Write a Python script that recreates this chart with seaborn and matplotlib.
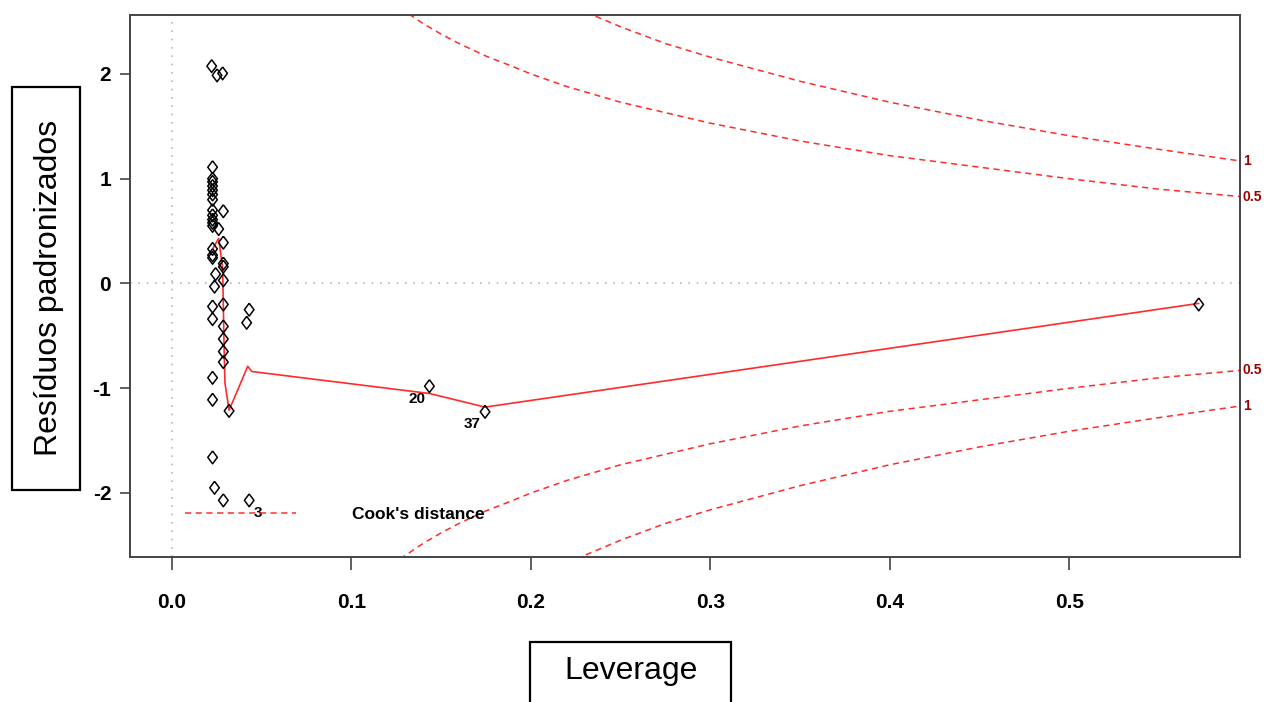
import matplotlib
matplotlib.use("Agg")
import matplotlib.pyplot as plt
import seaborn as sns
import pandas as pd
from matplotlib.patches import Rectangle

# leverage / standardized residuals
leverage = [0.0221, 0.0251, 0.0282,
            0.0226, 0.0226, 0.0226, 0.0226, 0.0226, 0.0226, 0.0226, 0.0226,
            0.0226, 0.0226, 0.0226, 0.0226, 0.0226, 0.0226, 0.0226, 0.0226,
            0.0226, 0.0226, 0.0226, 0.0226, 0.0243, 0.0237, 0.0237,
            0.0286, 0.0286, 0.0286, 0.0286, 0.0286, 0.0286, 0.0286, 0.0286,
            0.0286, 0.0286, 0.0286, 0.0260, 0.0318,
            0.0430, 0.0416, 0.0430, 0.1434, 0.1744, 0.5720]
residuals = [2.075, 1.987, 2.006,
             1.11, 1.00, 0.97, 0.93, 0.89, 0.85, 0.80, 0.70,
             0.65, 0.61, 0.58, 0.55, 0.33, 0.27, 0.245, -0.22,
             -0.34, -0.90, -1.11, -1.66, 0.09, -0.03, -1.95,
             0.69, 0.39, 0.19, 0.16, 0.03, -0.20, -0.41, -0.53,
             -0.65, -0.75, -2.07, 0.52, -1.216,
             -0.25, -0.375, -2.07, -0.98, -1.225, -0.20]
point_ids = ["3", "20", "37"]
id_index = [41, 42, 43]

# smoother (red line)
smooth_lev = [0.0228, 0.0260, 0.0282, 0.0290, 0.0295, 0.0318, 0.0422, 0.0444, 0.1434, 0.1744, 0.5720]
smooth_res = [0.335, 0.43, 0.15, -0.60, -0.95, -1.21, -0.79, -0.84, -1.05, -1.18, -0.19]

# Cook's distance contours
cook_lev_05 = [0.127, 0.14, 0.15, 0.16, 0.175, 0.19, 0.20, 0.22, 0.25, 0.30, 0.35, 0.40, 0.45, 0.50, 0.55, 0.595]
cook_up_05 = [2.63, 2.48, 2.38, 2.29, 2.17, 2.07, 2.00, 1.88, 1.73, 1.53, 1.36, 1.22, 1.11, 1.00, 0.90, 0.83]
cook_lo_05 = [-2.63, -2.48, -2.38, -2.29, -2.17, -2.07, -2.00, -1.88, -1.73, -1.53, -1.36, -1.22, -1.11, -1.00, -0.90, -0.83]
cook_lev_1 = [0.225, 0.25, 0.275, 0.30, 0.35, 0.40, 0.45, 0.50, 0.55, 0.595]
cook_up_1 = [2.63, 2.45, 2.29, 2.16, 1.93, 1.73, 1.56, 1.41, 1.28, 1.17]
cook_lo_1 = [-2.63, -2.45, -2.29, -2.16, -1.93, -1.73, -1.56, -1.41, -1.28, -1.17]
cook_labels = ["1", "0.5", "0.5", "1"]

x_ticks = [0.0, 0.1, 0.2, 0.3, 0.4, 0.5]
y_ticks = [-2, -1, 0, 1, 2]

sns.set_style("white")
plt.rcParams['font.family'] = ['Liberation Sans', 'DejaVu Sans']
plt.rcParams['text.color'] = 'black'
narrow = ['Liberation Sans', 'DejaVu Sans']

W, H = 1264, 702
fig = plt.figure(figsize=(W / 100, H / 100), dpi=100)
ax = fig.add_axes([130 / W, 1 - 557 / H, 1110 / W, 542 / H])

ax.axhline(0, color='#b8b8b8', ls=(0, (1, 4)), lw=1.2, zorder=1)
ax.axvline(0, color='#b8b8b8', ls=(0, (1, 4)), lw=1.2, zorder=1)

red = '#ff2b2b'
dash = (0, (4, 3))
curves = [(cook_lev_1, cook_up_1), (cook_lev_05, cook_up_05),
          (cook_lev_05, cook_lo_05), (cook_lev_1, cook_lo_1)]
for lev, val in curves:
    sns.lineplot(x=lev, y=val, ax=ax, color=red, linestyle=dash, lw=1.1,
                 sort=False, estimator=None, zorder=2)
cook_line = ax.lines[-1]

sns.lineplot(x=smooth_lev, y=smooth_res, ax=ax, color=red, lw=1.2,
             sort=False, estimator=None, zorder=3)

diamond = [(0, 1), (0.75, 0), (0, -1), (-0.75, 0), (0, 1)]
sns.scatterplot(x=leverage, y=residuals, ax=ax, marker=diamond, s=85,
                facecolors='none', edgecolor='black', linewidth=1.1, zorder=4)

offsets = [(6, -9), (-9, -9), (-9, -9)]
for pid, i, off in zip(point_ids, id_index, offsets):
    ax.annotate(pid, (leverage[i], residuals[i]), xytext=off, textcoords='offset points',
                ha='center', va='center', fontsize=11, fontweight='bold', family=narrow,
                color='black')

for lab, (lev, val) in zip(cook_labels, curves):
    ax.text(0.5965, val[-1], lab, ha='left', va='center', color='#9b0000',
            fontsize=10, fontweight='bold', family=narrow, clip_on=False)

ax.set_xlim(-0.0234, 0.595)
ax.set_ylim(-2.611, 2.563)
ax.set_xticks(x_ticks)
ax.set_xticklabels([f"{v:.1f}" for v in x_ticks])
ax.set_yticks(y_ticks)
ax.set_yticklabels([str(v) for v in y_ticks])
for lab in ax.get_xticklabels() + ax.get_yticklabels():
    lab.set_family(narrow)
    lab.set_fontweight('bold')
    lab.set_fontsize(15)
ax.tick_params(axis='x', length=9, width=1.2, color='#444444', labelcolor='black',
               pad=17, bottom=True)
ax.tick_params(axis='y', length=7.5, width=1.2, color='#444444', labelcolor='black',
               pad=6, left=True)
for sp in ax.spines.values():
    sp.set_color('#444444')
    sp.set_linewidth(1.4)
ax.set_xlabel("")
ax.set_ylabel("")

leg = ax.legend([cook_line], ["Cook's distance"], loc='lower left',
                bbox_to_anchor=(0.0495, 0.064), frameon=False, borderpad=0,
                borderaxespad=0, handlelength=6.4, handletextpad=3.2,
                prop={'family': narrow, 'weight': 'bold', 'size': 12.5})
for t in leg.get_texts():
    t.set_color('black')

# boxed axis titles
fig.patches.append(Rectangle((12 / W, 1 - 490 / H), 68 / W, 403 / H, transform=fig.transFigure,
                             fill=False, edgecolor='black', lw=1.6))
fig.text(49 / W, 1 - 288 / H, "Resíduos padronizados", rotation=90, ha='center', va='center',
         fontsize=23, color='black')
fig.patches.append(Rectangle((530 / W, -0.05), 201 / W, (702 - 642) / H + 0.05,
                             transform=fig.transFigure, fill=False, edgecolor='black', lw=1.6))
fig.text(631 / W, 1 - 671 / H, "Leverage", ha='center', va='center', fontsize=23,
         color='black')

fig.savefig("out.png", dpi=100)
